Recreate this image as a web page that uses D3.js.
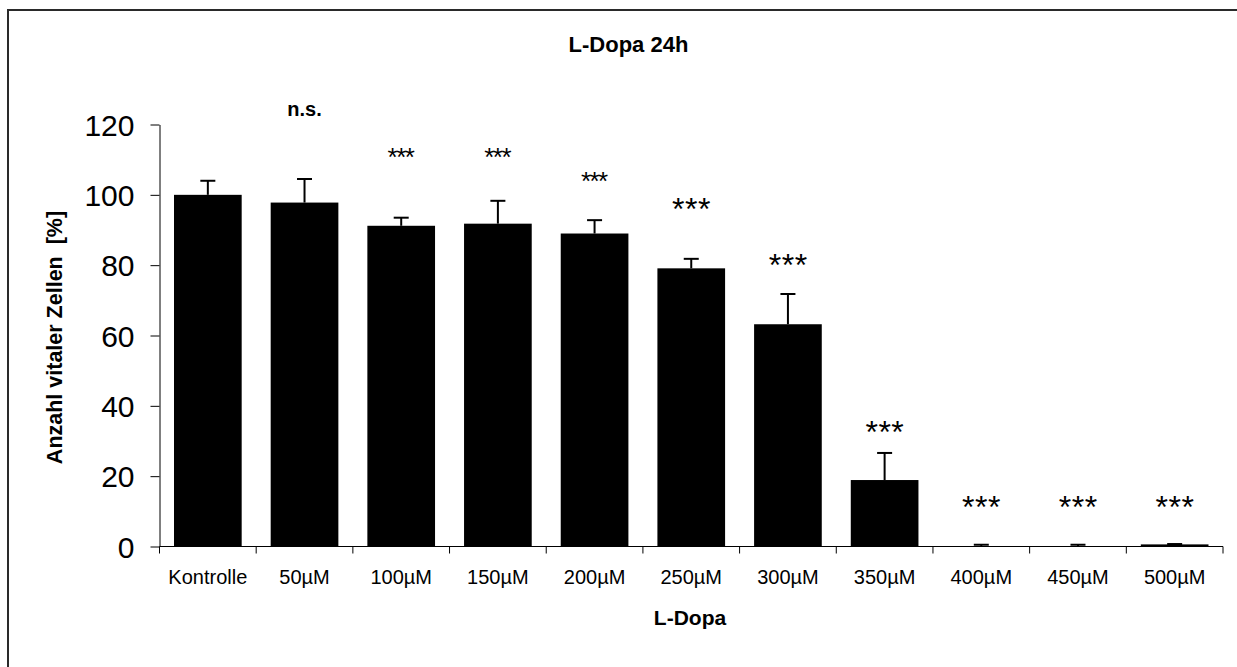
<!DOCTYPE html>
<html>
<head>
<meta charset="utf-8">
<script src="https://cdn.jsdelivr.net/npm/d3@7"></script>
<style>
  html, body { margin: 0; padding: 0; background: #fff; }
  svg { display: block; }
  text { font-family: "Liberation Sans", Arial, sans-serif; fill: #000; white-space: pre; }
</style>
</head>
<body>
<svg id="chart" width="1237" height="667"></svg>
<script>
// ---- data ----
const categories = ["Kontrolle", "50µM", "100µM", "150µM", "200µM", "250µM", "300µM", "350µM", "400µM", "450µM", "500µM"];
const values     = [100, 97.8, 91.2, 91.8, 89.0, 79.1, 63.2, 18.9, 0.1, 0.1, 0.6];
const errors     = [4.0, 6.7, 2.3, 6.5, 3.8, 2.7, 8.6, 7.7, 0.4, 0.4, 0.1];
const sigLabels  = ["", "n.s.", "***", "***", "***", "***", "***", "***", "***", "***", "***"];
const sigLevels  = [null, 123.8, 111.7, 111.6, 104.9, 97.1, 81.0, 33.7, 12.4, 12.4, 12.4];
const sigLarge   = [false, false, false, false, false, true, true, true, true, true, true];
const yTicks     = [0, 20, 40, 60, 80, 100, 120];
const title      = "L-Dopa 24h";
const xTitle     = "L-Dopa";
const yTitle     = "Anzahl vitaler Zellen  [%]";

// ---- layout ----
const svg = d3.select("#chart");
const plot = { left: 159.5, right: 1223, top: 124.5, bottom: 546.5 };

// outer chart border (extends past the viewport like in the reference)
svg.append("rect")
  .attr("x", 8).attr("y", 10).attr("width", 1400).attr("height", 800)
  .attr("fill", "none").attr("stroke", "#2a2a2a").attr("stroke-width", 2);

const x = d3.scaleBand()
  .domain(categories)
  .range([plot.left, plot.right])
  .paddingInner(0.3)
  .paddingOuter(0.15);

const y = d3.scaleLinear().domain([0, 120]).range([plot.bottom, plot.top]);

// bars
svg.append("g").selectAll("rect")
  .data(categories)
  .join("rect")
  .attr("x", d => x(d))
  .attr("width", x.bandwidth())
  .attr("y", (d, i) => y(values[i]))
  .attr("height", (d, i) => y(0) - y(values[i]))
  .attr("fill", "#000");

// error bars (plus direction)
const eg = svg.append("g").attr("stroke", "#000").attr("stroke-width", 2);
categories.forEach((c, i) => {
  const cx = x(c) + x.bandwidth() / 2;
  const yTop = y(values[i] + errors[i]);
  eg.append("line").attr("x1", cx).attr("x2", cx)
    .attr("y1", y(values[i])).attr("y2", yTop);
  eg.append("line").attr("x1", cx - 7.5).attr("x2", cx + 7.5)
    .attr("y1", yTop).attr("y2", yTop);
});

// y axis
const yAxis = d3.axisLeft(y).tickValues(yTicks).tickSize(9).tickSizeOuter(0).tickPadding(16);
const gy = svg.append("g").attr("transform", `translate(${plot.left},0)`).call(yAxis);
gy.select(".domain").attr("stroke", "#000");
gy.selectAll(".tick line").attr("stroke", "#000");
gy.selectAll(".tick text")
  .attr("font-family", "Liberation Sans, Arial, sans-serif")
  .attr("font-size", 30).attr("dy", "0.36em").attr("fill", "#000");

// x axis: line and ticks at category boundaries
const gx = svg.append("g");
gx.append("line").attr("x1", plot.left).attr("x2", plot.right)
  .attr("y1", plot.bottom).attr("y2", plot.bottom).attr("stroke", "#000");
const boundaries = categories.map(c => x(c) - x.step() * x.paddingInner() / 2)
  .concat([plot.right]);
gx.selectAll("line.tk").data(boundaries).join("line")
  .attr("class", "tk")
  .attr("x1", d => d).attr("x2", d => d)
  .attr("y1", plot.bottom).attr("y2", plot.bottom + 7)
  .attr("stroke", "#000");
gx.selectAll("text").data(categories).join("text")
  .attr("x", d => x(d) + x.bandwidth() / 2)
  .attr("y", 584)
  .attr("text-anchor", "middle")
  .attr("font-size", 20)
  .text(d => d);

// significance annotations
const ag = svg.append("g");
categories.forEach((c, i) => {
  if (!sigLabels[i]) return;
  const cx = x(c) + x.bandwidth() / 2;
  if (sigLabels[i] === "n.s.") {
    ag.append("text").attr("x", cx).attr("y", y(sigLevels[i]) + 5)
      .attr("text-anchor", "middle").attr("font-weight", "bold").attr("font-size", 20)
      .text(sigLabels[i]);
  } else {
    const f = sigLarge[i] ? 32 : 26;
    const ls = sigLarge[i] ? 0.5 : -1.5;
    ag.append("text").attr("x", cx + ls / 2).attr("y", y(sigLevels[i]) + 0.46 * f)
      .attr("text-anchor", "middle").attr("font-size", f)
      .attr("letter-spacing", ls)
      .text(sigLabels[i]);
  }
});

// titles
svg.append("text").attr("x", 628.5).attr("y", 51.5)
  .attr("text-anchor", "middle").attr("font-weight", "bold").attr("font-size", 22)
  .text(title);
svg.append("text").attr("x", 690).attr("y", 624.5)
  .attr("text-anchor", "middle").attr("font-weight", "bold").attr("font-size", 21)
  .text(xTitle);
svg.append("text")
  .attr("transform", `translate(61.5,${(plot.top + plot.bottom) / 2 + 2}) rotate(-90)`)
  .attr("text-anchor", "middle").attr("font-weight", "bold").attr("font-size", 21.5)
  .attr("xml:space", "preserve")
  .text(yTitle);
</script>
</body>
</html>
